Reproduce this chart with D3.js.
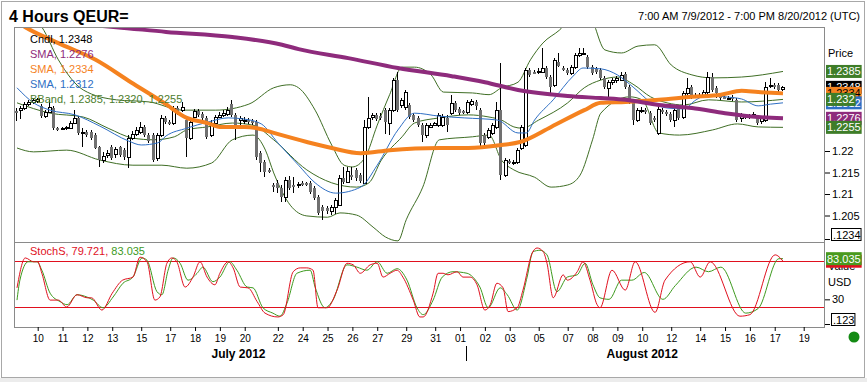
<!DOCTYPE html>
<html><head><meta charset="utf-8">
<script src="https://cdn.jsdelivr.net/npm/d3@7"></script>
<style>
body{margin:0;background:#fff;}
svg{display:block;font-family:"Liberation Sans",Arial,sans-serif;}
</style>
</head><body>
<svg id="c" width="867" height="382"></svg>
<script>
// ---------------- DATA ----------------
const titleText = "4 Hours QEUR=";
const rangeText = "7:00 AM 7/9/2012 - 7:00 PM 8/20/2012 (UTC)";

const candleOpen = [
1.2293,1.2295,1.2300,1.2309,1.2314,1.2316,1.2305,1.2281,1.2291,1.2300,
1.2253,1.2251,1.2253,1.2253,1.2265,1.2277,1.2242,1.2244,1.2244,1.2237,
1.2209,1.2179,1.2191,1.2209,1.2193,1.2209,1.2202,1.2186,1.2230,1.2240,
1.2244,1.2256,1.2237,1.2237,1.2184,1.2237,1.2277,1.2267,1.2265,1.2300,
1.2295,1.2272,1.2230,1.2279,1.2293,1.2286,1.2277,1.2237,1.2265,1.2279,
1.2284,1.2286,1.2309,1.2284,1.2272,1.2270,1.2272,1.2270,1.2267,1.2195,
1.2174,1.2156,1.2120,1.2126,1.2114,1.2093,1.2133,1.2121,1.2123,1.2126,
1.2126,1.2126,1.2114,1.2093,1.2070,1.2067,1.2060,1.2070,1.2074,1.2137,
1.2128,1.2145,1.2156,1.2144,1.2126,1.2256,1.2279,1.2284,1.2281,1.2295,
1.2265,1.2295,1.2365,1.2307,1.2302,1.2307,1.2284,1.2277,1.2260,1.2237,
1.2256,1.2260,1.2260,1.2260,1.2277,1.2288,1.2312,1.2298,1.2293,1.2291,
1.2309,1.2314,1.2295,1.2237,1.2233,1.2242,1.2256,1.2295,1.2144,1.2177,
1.2174,1.2174,1.2207,1.2214,1.2388,1.2384,1.2384,1.2384,1.2393,1.2372,
1.2354,1.2407,1.2393,1.2388,1.2381,1.2395,1.2423,1.2426,1.2419,1.2395,
1.2391,1.2388,1.2370,1.2347,1.2360,1.2365,1.2365,1.2379,1.2349,1.2312,
1.2272,1.2295,1.2295,1.2288,1.2277,1.2242,1.2295,1.2291,1.2286,1.2272,
1.2300,1.2279,1.2335,1.2349,1.2331,1.2331,1.2326,1.2337,1.2372,1.2347,
1.2331,1.2326,1.2323,1.2326,1.2319,1.2277,1.2281,1.2279,1.2281,1.2279,
1.2270,1.2272,1.2351,1.2354,1.2354,1.2344];
const candleClose = [
1.2291,1.2300,1.2309,1.2314,1.2319,1.2321,1.2281,1.2291,1.2302,1.2253,
1.2251,1.2253,1.2256,1.2265,1.2277,1.2242,1.2244,1.2237,1.2230,1.2207,
1.2179,1.2188,1.2195,1.2184,1.2205,1.2191,1.2186,1.2230,1.2240,1.2249,
1.2256,1.2237,1.2223,1.2179,1.2237,1.2277,1.2267,1.2263,1.2300,1.2288,
1.2302,1.2230,1.2267,1.2293,1.2284,1.2277,1.2233,1.2265,1.2279,1.2284,
1.2288,1.2295,1.2284,1.2260,1.2277,1.2272,1.2267,1.2265,1.2186,1.2172,
1.2151,1.2153,1.2118,1.2114,1.2093,1.2133,1.2114,1.2120,1.2124,1.2125,
1.2123,1.2105,1.2091,1.2056,1.2060,1.2060,1.2070,1.2086,1.2137,1.2128,
1.2153,1.2144,1.2137,1.2130,1.2256,1.2277,1.2284,1.2274,1.2277,1.2267,
1.2295,1.2365,1.2295,1.2319,1.2337,1.2279,1.2272,1.2260,1.2237,1.2260,
1.2260,1.2265,1.2284,1.2279,1.2260,1.2312,1.2295,1.2288,1.2291,1.2314,
1.2316,1.2305,1.2219,1.2219,1.2249,1.2260,1.2295,1.2144,1.2179,1.2174,
1.2175,1.2202,1.2256,1.2388,1.2377,1.2383,1.2386,1.2393,1.2372,1.2349,
1.2412,1.2398,1.2391,1.2381,1.2395,1.2423,1.2428,1.2428,1.2395,1.2381,
1.2384,1.2370,1.2349,1.2360,1.2365,1.2370,1.2377,1.2349,1.2314,1.2272,
1.2295,1.2296,1.2293,1.2265,1.2272,1.2298,1.2291,1.2286,1.2272,1.2295,
1.2277,1.2335,1.2347,1.2326,1.2328,1.2330,1.2337,1.2372,1.2342,1.2335,
1.2323,1.2325,1.2324,1.2321,1.2272,1.2284,1.2279,1.2281,1.2286,1.2265,
1.2277,1.2349,1.2354,1.2351,1.2342,1.2348];
const candleHigh = [
1.2300,1.2305,1.2314,1.2319,1.2323,1.2323,1.2309,1.2295,1.2319,1.2305,
1.2256,1.2256,1.2258,1.2270,1.2295,1.2281,1.2253,1.2249,1.2249,1.2242,
1.2212,1.2198,1.2202,1.2214,1.2209,1.2212,1.2207,1.2237,1.2246,1.2256,
1.2267,1.2260,1.2242,1.2242,1.2242,1.2284,1.2281,1.2272,1.2305,1.2305,
1.2314,1.2277,1.2277,1.2298,1.2298,1.2291,1.2281,1.2272,1.2284,1.2291,
1.2295,1.2302,1.2319,1.2288,1.2281,1.2279,1.2277,1.2274,1.2272,1.2200,
1.2179,1.2160,1.2126,1.2133,1.2121,1.2139,1.2142,1.2139,1.2128,1.2130,
1.2128,1.2130,1.2119,1.2098,1.2074,1.2072,1.2074,1.2091,1.2144,1.2163,
1.2163,1.2163,1.2160,1.2149,1.2272,1.2326,1.2288,1.2288,1.2288,1.2300,
1.2300,1.2370,1.2384,1.2323,1.2342,1.2312,1.2288,1.2281,1.2265,1.2265,
1.2265,1.2267,1.2288,1.2286,1.2284,1.2331,1.2316,1.2302,1.2295,1.2319,
1.2321,1.2319,1.2300,1.2242,1.2253,1.2265,1.2314,1.2405,1.2184,1.2181,
1.2179,1.2207,1.2260,1.2393,1.2393,1.2388,1.2393,1.2440,1.2398,1.2377,
1.2416,1.2428,1.2398,1.2393,1.2400,1.2428,1.2440,1.2440,1.2423,1.2400,
1.2395,1.2393,1.2374,1.2365,1.2370,1.2374,1.2384,1.2384,1.2354,1.2316,
1.2300,1.2302,1.2300,1.2293,1.2281,1.2305,1.2300,1.2295,1.2291,1.2300,
1.2305,1.2340,1.2370,1.2354,1.2335,1.2335,1.2342,1.2384,1.2381,1.2351,
1.2335,1.2331,1.2328,1.2331,1.2323,1.2288,1.2286,1.2286,1.2291,1.2284,
1.2281,1.2360,1.2370,1.2358,1.2358,1.2351];
const candleLow = [
1.2270,1.2274,1.2295,1.2305,1.2309,1.2312,1.2277,1.2277,1.2288,1.2249,
1.2246,1.2249,1.2249,1.2251,1.2263,1.2237,1.2209,1.2233,1.2226,1.2205,
1.2163,1.2172,1.2184,1.2179,1.2184,1.2186,1.2179,1.2160,1.2226,1.2235,
1.2240,1.2233,1.2219,1.2174,1.2177,1.2233,1.2263,1.2260,1.2260,1.2284,
1.2291,1.2186,1.2226,1.2277,1.2279,1.2272,1.2228,1.2233,1.2263,1.2277,
1.2279,1.2281,1.2279,1.2226,1.2260,1.2263,1.2263,1.2260,1.2179,1.2151,
1.2139,1.2149,1.2105,1.2102,1.2081,1.2081,1.2109,1.2102,1.2114,1.2119,
1.2119,1.2100,1.2086,1.2051,1.2040,1.2053,1.2051,1.2053,1.2072,1.2123,
1.2126,1.2133,1.2130,1.2126,1.2123,1.2251,1.2272,1.2270,1.2272,1.2240,
1.2237,1.2291,1.2291,1.2300,1.2295,1.2274,1.2267,1.2256,1.2221,1.2230,
1.2253,1.2258,1.2256,1.2256,1.2244,1.2284,1.2291,1.2284,1.2286,1.2286,
1.2305,1.2295,1.2212,1.2214,1.2228,1.2237,1.2251,1.2133,1.2139,1.2170,
1.2167,1.2170,1.2202,1.2209,1.2372,1.2379,1.2379,1.2381,1.2367,1.2335,
1.2349,1.2395,1.2386,1.2377,1.2377,1.2391,1.2419,1.2423,1.2391,1.2377,
1.2379,1.2365,1.2344,1.2326,1.2354,1.2358,1.2363,1.2344,1.2309,1.2260,
1.2267,1.2288,1.2286,1.2260,1.2267,1.2237,1.2286,1.2281,1.2267,1.2256,
1.2272,1.2274,1.2331,1.2321,1.2323,1.2326,1.2323,1.2333,1.2337,1.2323,
1.2319,1.2321,1.2319,1.2316,1.2267,1.2267,1.2274,1.2274,1.2277,1.2260,
1.2263,1.2267,1.2347,1.2344,1.2337,1.2340];

// Long SMA (purple)
const smaLongIdx  = [0,10,24,36,52,64,68,80,92,105,113,121,133,141,147,155,163,171,179,185];
const smaLongVals = [1.2502,1.2498,1.2488,1.2477,1.2465,1.2447,1.2437,1.2416,1.2393,1.2374,1.2360,1.2342,1.2328,1.2323,1.2319,1.2307,1.2300,1.2288,1.2279,1.2276];
// Medium SMA (orange)
const smaMidIdx  = [0,2,10,19,27.5,35.5,41,46,49,55,58,62,70,76,83,90,102,109,117,121.5,129,137,141,147,155,163,170,175,179,185];
const smaMidVals = [1.2500,1.2488,1.2451,1.2412,1.2360,1.2312,1.2277,1.2265,1.2256,1.2256,1.2253,1.2242,1.2221,1.2207,1.2195,1.2202,1.2207,1.2207,1.2214,1.2221,1.2256,1.2295,1.2312,1.2314,1.2319,1.2326,1.2331,1.2340,1.2337,1.2334];
// Short SMA (blue)
const smaShortIdx  = [0,4,8,14,20,27,30,34,36,41,46,51,55,59,63,68,72,77,83,87,92,96,102,108,116,121,123,125,129.5,134.3,136.7,141,145,149,153,157,161,164,167,171,175,179,182,185];
const smaShortVals = [1.2347,1.2312,1.2295,1.2284,1.2258,1.2223,1.2214,1.2219,1.2235,1.2253,1.2267,1.2277,1.2274,1.2263,1.2219,1.2167,1.2126,1.2102,1.2116,1.2167,1.2249,1.2288,1.2281,1.2277,1.2272,1.2242,1.2242,1.2272,1.2319,1.2374,1.2393,1.2391,1.2377,1.2347,1.2314,1.2300,1.2298,1.2319,1.2331,1.2326,1.2321,1.2305,1.2309,1.2312];
// Bollinger bands
const bbUpIdx  = [0,6,10,16,24,32,40,48,56,62,66,68,72,76,79,81,84,87,90,93,96,100,103,110,114,117,121,124,127,131,134,138,142,146,150,154,158,163,168,175,185];
const bbUpVals = [1.2528,1.2488,1.2412,1.2342,1.2319,1.2314,1.2295,1.2295,1.2309,1.2347,1.2354,1.2347,1.2295,1.2214,1.2167,1.2163,1.2184,1.2260,1.2331,1.2395,1.2395,1.2377,1.2337,1.2335,1.2331,1.2347,1.2360,1.2412,1.2451,1.2481,1.2509,1.2516,1.2435,1.2428,1.2444,1.2447,1.2400,1.2377,1.2370,1.2372,1.2385];
const bbMidIdx  = [0,8,16,22,28,33,38,41,46,52,57,62,70,76,82,85,88,93,96,102,109,114,117,120,122,126,133,137,141,145,149,153,157,161,167,175,185];
const bbMidVals = [1.2312,1.2288,1.2279,1.2253,1.2230,1.2226,1.2233,1.2249,1.2256,1.2265,1.2260,1.2226,1.2156,1.2126,1.2116,1.2126,1.2179,1.2233,1.2265,1.2277,1.2284,1.2279,1.2272,1.2256,1.2253,1.2272,1.2312,1.2347,1.2365,1.2372,1.2354,1.2326,1.2312,1.2307,1.2319,1.2314,1.2320];
const bbLowIdx  = [0,4,12,20,28,35,41,47,52,57,60,62,66,70,75,78,82,86,89,92,94,98,102,110,114,117,120,125,129,133,136,139,141,148,151,155,160,168,174,179,185];
const bbLowVals = [1.2207,1.2198,1.2202,1.2179,1.2167,1.2167,1.2160,1.2172,1.2226,1.2237,1.2202,1.2149,1.2074,1.2049,1.2046,1.2056,1.2051,1.2023,1.2000,1.1991,1.2040,1.2116,1.2226,1.2233,1.2237,1.2179,1.2156,1.2139,1.2116,1.2121,1.2144,1.2226,1.2288,1.2326,1.2319,1.2242,1.2237,1.2249,1.2263,1.2256,1.2255];

// Slow stochastic
const stochKIdx  = [0,2,4,5,6,8,10,12,14.5,17,18,20.5,23,25.5,28,29.7,31.4,33.3,34.5,36.2,37.4,38.6,40.6,42.5,44.2,45.9,47.8,49,51,52.2,53.9,55.8,58,59.9,63,64.3,66.7,68.4,70,71.5,72.7,74.9,77.3,79.7,81.2,82.9,85.3,87,88.4,90.1,91.8,93.2,95.7,97.3,98.1,100.5,101.7,102.9,104.1,106.3,107.7,109.4,111.1,113,114.3,115.9,117.4,118.6,120.8,122.2,124.4,125.6,127.1,128,129.5,131.9,132.9,135.3,136.7,138.4,140.1,140.8,143.7,146.9,149.3,154.1,156.5,162.6,165,167.4,174.6,177,183.1,185];
const stochKVals = [45,84,79,79,64,29,29,20,36,32,32,16,38,55,59,85,79,29,33,77,84,79,46,59,79,59,49,64,79,71,46,45,27,12,7,10,66,71,71,68,19,19,42,77,75,64,75,77,59,64,68,59,29,7,7,38,64,64,62,66,59,59,49,16,23,51,45,14,19,42,90,97,92,77,32,62,55,66,79,55,23,19,68,42,79,13,55,79,59,79,8,10,88,79.721];
const stochDIdx  = [0,0.7,2.7,4.8,6,8,10.4,12.1,14.5,16.9,18.4,20.8,23.2,25.6,28,30.2,31.4,33.8,35,36.5,37.7,39.4,41.3,43.5,44.9,47.3,49,51.4,53.1,55.6,57,59.4,61.8,63.5,65.2,67.6,70.8,72,74.4,76.3,79.7,82.1,84.5,87,89.4,91.8,94.2,96.6,98.1,100.5,102.7,105.3,108.7,110.1,111.8,113.8,116.7,118.4,120.8,123.2,124.6,126.3,128,130.4,132.9,135.3,137.2,139.1,140.8,143,146,148.5,151.5,156,159,164,167,170,176,179,184,185];
const stochDVals = [29,55,79,79,68,38,27,23,36,33,29,19,33,51,59,84,81,40,36,68,84,77,55,64,72,53,59,79,68,46,45,19,12,8,25,64,68,46,19,29,75,72,68,79,64,70,55,19,10,29,59,66,64,59,46,19,45,36,16,59,92,94,88,40,59,62,77,49,32,30,55,55,65,30,48,72,66,72,12,18,83,83.035];
const stochBands = [80,20];

// Axis labels
const priceTicks = [1.22,1.215,1.21,1.205];
const priceTickText = ["1.22","1.215","1.21","1.205"];
const stochTicks = [30];
const dayTickIdx = [5,11,17,23,30,37,43,49,55,63,69,75,81,87,94,101,107,113,119,126,133,139,145,151,158,165,171,177,183,190];
const dayTickText = ["10","11","12","13","15","17","18","19","20","22","24","25","26","27","29","31","01","02","03","05","07","08","09","10","12","14","15","16","17","19"];
const monthNames = ["July 2012","August 2012"];
const monthCenterIdx = [53.5,151];
const monthBreakIdx = 108.5;

// Legend / last values
const legendText = ["Cndl, 1.2348","SMA, 1.2276","SMA, 1.2334","SMA, 1.2312","BBand, 1.2385, 1.2320, 1.2255"];
const lastVals = {close:1.2348, long:1.2276, mid:1.2334, short:1.2312, up:1.2385, md:1.2320, lo:1.2255};
const stochLegend = ["StochS, 79.721, ","83.035"];
const stochLast = [79.721, 83.035];

// ---------------- CHART ----------------
const C = {purple:"#8e2b7c", orange:"#f5821f", blue:"#2f6fc4", bb:"#3f6e25", bbText:"#4d7d2e",
           red:"#e0101e", sgreen:"#3d9a1e", frame:"#8a8a8a", bear:"#707070", boxGreen:"#3e7d28"};
const L=14, R=824, T=27, MB=242, SB=327;

const svg = d3.select("#c");
svg.append("rect").attr("width",867).attr("height",382).attr("fill","#fff");
svg.append("rect").attr("x",0).attr("y",378).attr("width",867).attr("height",4).attr("fill","#ececec");
svg.append("rect").attr("x",1.5).attr("y",1.5).attr("width",863).attr("height",376)
   .attr("fill","none").attr("stroke","#a8a8a8");

const x  = d3.scaleLinear().domain([0,185]).range([17,783]);
const y  = d3.scaleLinear().domain([1.2,1.25]).range([237,22]);
const ys = d3.scaleLinear().domain([0,100]).range([322.33,245.67]);

const defs = svg.append("defs");
defs.append("clipPath").attr("id","cm").append("rect").attr("x",L).attr("y",T).attr("width",R-L).attr("height",MB-T);
defs.append("clipPath").attr("id","cs").append("rect").attr("x",L).attr("y",MB).attr("width",R-L).attr("height",SB-MB);

// title
svg.append("text").attr("x",9).attr("y",22).attr("font-size",16).attr("font-weight","bold").text(titleText);
svg.append("text").attr("x",860).attr("y",20).attr("text-anchor","end").attr("font-size",11).text(rangeText);

const main = svg.append("g").attr("clip-path","url(#cm)");
const ln = (idx, ys_, sc) => d3.line().x((d,i)=>x(idx[i])).y(d=>sc(d)).curve(d3.curveMonotoneX)(ys_);

// Bollinger
[[bbUpIdx,bbUpVals],[bbMidIdx,bbMidVals],[bbLowIdx,bbLowVals]].forEach(([a,b])=>{
  main.append("path").attr("d",ln(a,b,y)).attr("fill","none").attr("stroke",C.bb).attr("stroke-width",1);
});

// Candles
const cg = main.append("g").attr("shape-rendering","crispEdges");
candleClose.forEach((c,i)=>{
  const xc = Math.round(x(i));
  const o = candleOpen[i], h = candleHigh[i], l = candleLow[i];
  cg.append("line").attr("x1",xc-0.5).attr("x2",xc-0.5).attr("y1",y(h)).attr("y2",y(l)).attr("stroke","#000");
  const top = Math.round(y(Math.max(o,c))), bot = Math.round(y(Math.min(o,c)));
  if (c >= o) {
    cg.append("rect").attr("x",xc-1.5).attr("y",top+0.5).attr("width",3).attr("height",Math.max(bot-top,1))
      .attr("fill","#fff").attr("stroke","#000");
  } else {
    cg.append("rect").attr("x",xc-2).attr("y",top).attr("width",3).attr("height",Math.max(bot-top,2))
      .attr("fill",C.bear);
  }
});

// SMAs
main.append("path").attr("d",ln(smaShortIdx,smaShortVals,y)).attr("fill","none").attr("stroke",C.blue).attr("stroke-width",1);
main.append("path").attr("d",ln(smaMidIdx,smaMidVals,y)).attr("fill","none").attr("stroke",C.orange).attr("stroke-width",4);
main.append("path").attr("d",ln(smaLongIdx,smaLongVals,y)).attr("fill","none").attr("stroke",C.purple).attr("stroke-width",4);

// legend
const legCol = ["#000",C.purple,C.orange,C.blue,C.bbText];
legendText.forEach((t,i)=>{
  svg.append("text").attr("x",30).attr("y",43+15*i).attr("font-size",11).attr("fill",legCol[i]).text(t);
});

// Stoch panel
const st = svg.append("g").attr("clip-path","url(#cs)");
stochBands.forEach(v=>{
  st.append("line").attr("x1",L).attr("x2",R).attr("y1",Math.round(ys(v))+0.5).attr("y2",Math.round(ys(v))+0.5)
    .attr("stroke",C.red).attr("stroke-width",1).attr("shape-rendering","crispEdges");
});
st.append("path").attr("d",ln(stochDIdx,stochDVals,ys)).attr("fill","none").attr("stroke",C.sgreen).attr("stroke-width",1);
st.append("path").attr("d",ln(stochKIdx,stochKVals,ys)).attr("fill","none").attr("stroke",C.red).attr("stroke-width",1);
const sl = svg.append("text").attr("x",30).attr("y",255).attr("font-size",11);
sl.append("tspan").attr("fill",C.red).text(stochLegend[0]);
sl.append("tspan").attr("fill",C.sgreen).text(stochLegend[1]);

// frames
const fr = svg.append("g").attr("shape-rendering","crispEdges").attr("stroke",C.frame).attr("fill","none");
fr.append("rect").attr("x",L+0.5).attr("y",T+0.5).attr("width",R-L).attr("height",SB-T);
fr.append("line").attr("x1",L).attr("x2",R).attr("y1",MB+0.5).attr("y2",MB+0.5);

// Right price axis
const ax = svg.append("g").attr("transform",`translate(${R+1},0)`)
  .call(d3.axisRight(y).tickValues(priceTicks).tickFormat((d,i)=>priceTickText[i]).tickSize(5).tickPadding(2));
ax.select(".domain").remove();
ax.selectAll("text").attr("font-size",11).attr("font-family","Liberation Sans, Arial, sans-serif");
svg.append("text").attr("x",828).attr("y",57).attr("font-size",11).text("Price");
svg.append("text").attr("x",828).attr("y",73).attr("font-size",11).text("USD");

function box(val, txt, bg, fg, yy){
  const cy = yy(val);
  const g = svg.append("g");
  const r = g.append("rect").attr("x",826).attr("y",cy-6.5).attr("height",13).attr("fill",bg);
  const t = g.append("text").attr("x",827).attr("y",cy+4).attr("font-size",11).attr("fill",fg).text(txt);
  r.attr("width", t.node().getComputedTextLength()+2);
}
box(lastVals.close,"1.2348","#000","#fff",y);
box(lastVals.mid,"1.2334",C.orange,"#000",y);
box(lastVals.short,"1.2312",C.blue,"#fff",y);
box(lastVals.long,"1.2276",C.purple,"#fff",y);
box(lastVals.up,"1.2385",C.boxGreen,"#fff",y);
box(lastVals.md,"1.232",C.boxGreen,"#fff",y);
box(lastVals.lo,"1.2255",C.boxGreen,"#fff",y);

// small boxed labels
function smallBox(cy, txt){
  svg.append("line").attr("x1",825).attr("x2",830).attr("y1",cy+4.5).attr("y2",cy+4.5).attr("stroke","#000");
  const t = svg.append("text").attr("x",833).attr("y",cy+4).attr("font-size",11).text(txt);
  svg.append("rect").attr("x",831.5).attr("y",cy-6.5).attr("width",t.node().getComputedTextLength()+2).attr("height",12)
    .attr("fill","none").attr("stroke","#000");
}
smallBox(235,".1234");

// stoch right axis
svg.append("text").attr("x",828).attr("y",270).attr("font-size",11).text("Value");
svg.append("text").attr("x",828).attr("y",286).attr("font-size",11).text("USD");
const ax2 = svg.append("g").attr("transform",`translate(${R+1},0)`)
  .call(d3.axisRight(ys).tickValues(stochTicks).tickSize(5).tickPadding(2));
ax2.select(".domain").remove();
ax2.selectAll("text").attr("font-size",11).attr("font-family","Liberation Sans, Arial, sans-serif");
box(stochLast[0],"79.721",C.red,"#fff",ys);
box(stochLast[1],"83.035","#4a9a1e","#fff",ys);
smallBox(320,".123");

// X axis
const xa = svg.append("g").attr("transform",`translate(0,${SB})`)
  .call(d3.axisBottom(x).tickValues(dayTickIdx).tickFormat((d,i)=>dayTickText[i]).tickSize(4).tickPadding(4));
xa.select(".domain").remove();
xa.selectAll("text").attr("font-size",10).attr("font-family","Liberation Sans, Arial, sans-serif");
monthNames.forEach((m,i)=>{
  svg.append("text").attr("x",x(monthCenterIdx[i])).attr("y",358).attr("text-anchor","middle")
    .attr("font-size",12).attr("font-weight","bold").text(m);
});
svg.append("line").attr("x1",Math.round(x(monthBreakIdx))+0.5).attr("x2",Math.round(x(monthBreakIdx))+0.5)
  .attr("y1",346).attr("y2",361).attr("stroke","#000");

svg.append("circle").attr("cx",854).attr("cy",337).attr("r",5.5).attr("fill","#138a13");
</script>
</body></html>
